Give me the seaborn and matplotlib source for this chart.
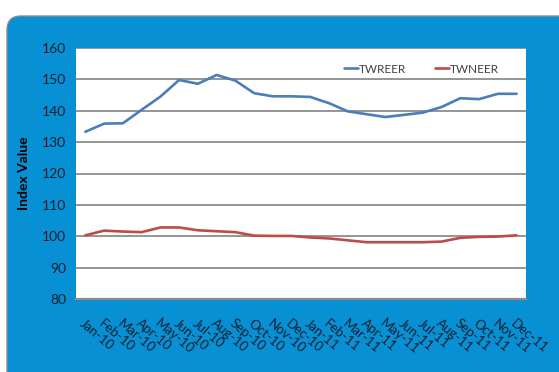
import matplotlib
matplotlib.use("Agg")
import matplotlib.pyplot as plt
from matplotlib.patches import FancyBboxPatch
import pandas as pd
import seaborn as sns

months = ["Jan-10", "Feb-10", "Mar-10", "Apr-10", "May-10", "Jun-10", "Jul-10", "Aug-10",
          "Sep-10", "Oct-10", "Nov-10", "Dec-10", "Jan-11", "Feb-11", "Mar-11", "Apr-11",
          "May-11", "Jun-11", "Jul-11", "Aug-11", "Sep-11", "Oct-11", "Nov-11", "Dec-11"]
twreer = [133.3, 135.9, 136.0, 140.3, 144.5, 149.8, 148.6, 151.4, 149.6, 145.6, 144.6, 144.6,
          144.4, 142.4, 139.8, 138.9, 138.0, 138.7, 139.4, 141.2, 144.0, 143.7, 145.4, 145.4]
twneer = [100.3, 101.8, 101.5, 101.3, 102.8, 102.8, 101.9, 101.6, 101.3, 100.2, 100.1, 100.1,
          99.6, 99.3, 98.7, 98.1, 98.1, 98.1, 98.1, 98.3, 99.5, 99.8, 99.9, 100.3]
series_names = ["TWREER", "TWNEER"]
y_ticks = [80, 90, 100, 110, 120, 130, 140, 150, 160]

df = pd.DataFrame({
    "idx": list(range(len(months))) * 2,
    "value": twreer + twneer,
    "series": [series_names[0]] * len(months) + [series_names[1]] * len(months),
})

sns.set_theme(style="white")
plt.rcParams["font.family"] = ["Lato", "DejaVu Sans"]

fig = plt.figure(figsize=(5.59, 3.72), dpi=100)
fig.patch.set_facecolor("white")

# blue rounded panel behind the chart
panel = FancyBboxPatch((7 / 559, -0.2), 1.2, 1 - 16 / 372 + 0.2,
                       boxstyle="round,pad=0,rounding_size=0.025",
                       transform=fig.transFigure, facecolor="#0790d4",
                       edgecolor="#8a8a8a", linewidth=1.0, zorder=-10,
                       mutation_aspect=559 / 372)
fig.add_artist(panel)

ax = fig.add_axes([76 / 559, 1 - 299 / 372, 450 / 559, 251 / 372])
ax.set_zorder(5)
ax.set_facecolor("white")

palette = {"TWREER": "#4a7ebb", "TWNEER": "#be4b48"}
sns.lineplot(data=df, x="idx", y="value", hue="series", palette=palette,
             linewidth=1.9, ax=ax, legend=True)

ax.set_xlim(-0.5, len(months) - 0.5)
ax.set_ylim(80, 160)
ax.set_yticks(y_ticks)
ax.grid(axis="y", color="#8c8c8c", linewidth=1.3)
ax.set_axisbelow(True)
for s in ["top", "left", "right"]:
    ax.spines[s].set_visible(False)
ax.spines["bottom"].set_color("#8c8c8c")
ax.spines["bottom"].set_linewidth(1.6)

ax.set_xticks(range(len(months)))
ax.set_xticklabels(months, rotation=-40, ha="left", va="top",
                   rotation_mode="anchor", fontsize=9.5, color="#102030")
ax.tick_params(axis="x", length=0, pad=13)
ax.tick_params(axis="y", length=0, pad=7, labelsize=10, labelcolor="#102030")

ax.set_xlabel("")
ax.set_ylabel("Index Value", fontsize=10, fontweight="bold", color="black")
ax.yaxis.set_label_coords(-0.102, 0.5)

leg = ax.legend(loc="center right", bbox_to_anchor=(0.94, 0.916), ncol=2, frameon=False,
                fontsize=8.5, handlelength=1.2, handletextpad=0.1, columnspacing=2.4,
                borderaxespad=0.0, borderpad=0.0)
for t in leg.get_texts():
    t.set_color("#404040")

fig.savefig("out.png", dpi=100, facecolor="white")
